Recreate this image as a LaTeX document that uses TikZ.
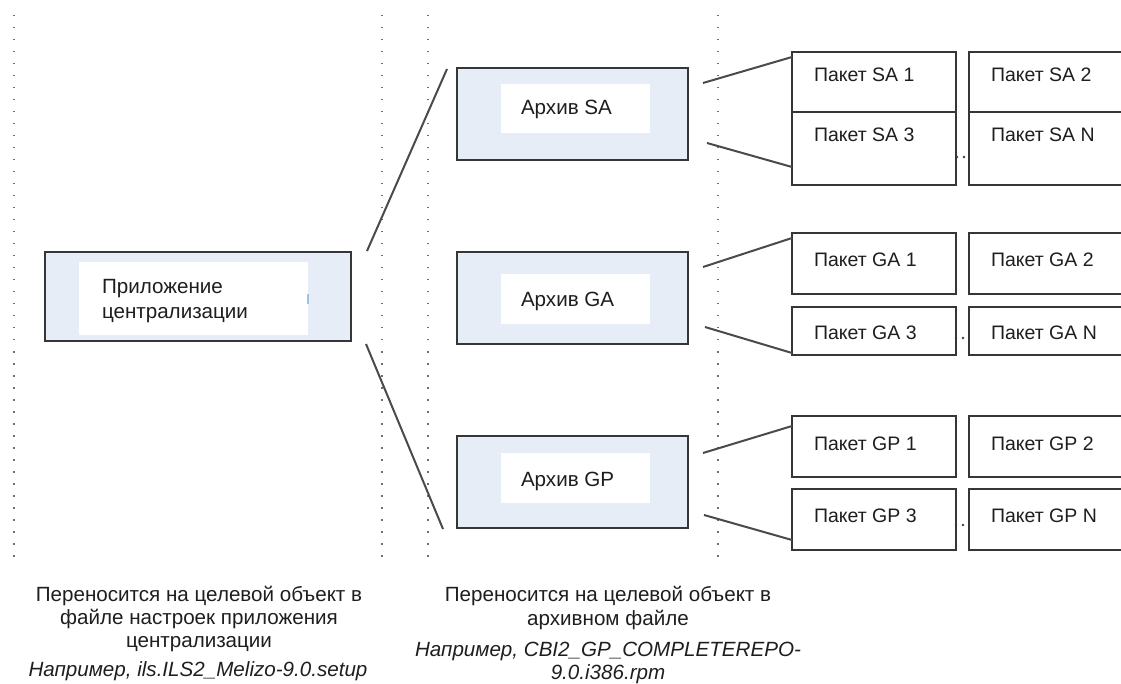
\documentclass[tikz,border=0pt]{standalone}
\usepackage{fontspec}
\setmainfont{Liberation Sans}
\usetikzlibrary{shadows}

\definecolor{boxline}{HTML}{363636}
\definecolor{archfill}{HTML}{E7EDF7}
\definecolor{linkc}{HTML}{4A4A4A}
\definecolor{guidec}{HTML}{6E6E6E}
\definecolor{dotc}{HTML}{3C3C3C}
\definecolor{textc}{HTML}{1E1E1E}
\definecolor{tickc}{HTML}{9DC3E6}

\tikzset{
  guide/.style={guidec, line width=1.5pt, dash pattern=on 1.5pt off 10.5pt},
  arch/.style={draw=boxline, line width=1.7pt, fill=archfill, inner sep=0pt, outer sep=0pt,
    drop shadow={shadow xshift=0.9pt, shadow yshift=-1.3pt, fill=gray!70, opacity=1}},
  whitepad/.style={fill=white, draw=none, inner sep=0pt, outer sep=0pt},
  pkg/.style={draw=boxline, line width=1.5pt, fill=white, inner sep=0pt, outer sep=0pt},
  lbl/.style={font=\fontsize{19.5}{23}\selectfont, text=textc, inner sep=0pt, outer sep=0pt},
  biglbl/.style={lbl, font=\fontsize{20.6}{24}\selectfont},
  captxt/.style={biglbl, anchor=base},
  link/.style={draw=linkc, line width=2pt},
  ell/.style={fill=dotc, circle, inner sep=0pt, minimum size=2.8pt},
}

\begin{document}
\begin{tikzpicture}[x=1pt, y=-1pt]
\useasboundingbox (0,0) rectangle (1121,684);

% vertical dotted guides
\draw[guide] (14,15) -- (14,566);
\draw[guide] (382,15) -- (382,566);
\draw[guide] (428,15) -- (428,566);
\draw[guide] (718,15) -- (718,566);

% application box
\node[arch, minimum width=306pt, minimum height=89pt] (app) at (198,296.5) {};
\node[whitepad, minimum width=229pt, minimum height=73pt] (apppad) at (193.5,298.5) {};
\node[biglbl, anchor=base west] (applbl1) at (102,293.5) {Приложение};
\node[biglbl, anchor=base west] (applbl2) at (102,318.5) {централизации};
\draw[tickc, line width=1.2pt] (apppad.east) ++(0,-4) -- ++(0,10);

% archive boxes
\node[arch, minimum width=231pt, minimum height=92pt] (sa) at (572.5,114) {};
\node[whitepad, minimum width=149pt, minimum height=49pt] (sapad) at (575.5,108.5) {};
\node[biglbl, anchor=base west] (salbl) at (521,115) {Архив SA};

\node[arch, minimum width=231pt, minimum height=92pt] (ga) at (572.5,298) {};
\node[whitepad, minimum width=149pt, minimum height=50pt] (gapad) at (575.5,299) {};
\node[biglbl, anchor=base west] (galbl) at (521,306.5) {Архив GA};

\node[arch, minimum width=231pt, minimum height=92pt] (gp) at (572.5,482) {};
\node[whitepad, minimum width=149pt, minimum height=50pt] (gppad) at (575.5,478) {};
\node[biglbl, anchor=base west] (gplbl) at (521,486.5) {Архив GP};

% package boxes, SA group
\node[pkg, minimum width=164pt, minimum height=60pt] (sa1) at (874,82) {};
\node[pkg, minimum width=164pt, minimum height=73pt] (sa3) at (874,148.5) {};
\node[pkg, minimum width=162pt, minimum height=60pt] (sa2) at (1050,82) {};
\node[pkg, minimum width=162pt, minimum height=73pt] (san) at (1050,148.5) {};
\node[lbl, anchor=base west] (sa1l) at (814,82) {Пакет SA 1};
\node[lbl, anchor=base west] (sa3l) at (814,142) {Пакет SA 3};
\node[lbl, anchor=base west] (sa2l) at (991,82) {Пакет SA 2};
\node[lbl, anchor=base west] (sanl) at (991,142) {Пакет SA N};
\node[ell] (sad1) at (957,157) {};
\node[ell] (sad2) at (964,157) {};

% package boxes, GA group
\node[pkg, minimum width=164pt, minimum height=61pt] (ga1) at (874,263.5) {};
\node[pkg, minimum width=164pt, minimum height=48pt] (ga3) at (874,331) {};
\node[pkg, minimum width=162pt, minimum height=61pt] (ga2) at (1050,263.5) {};
\node[pkg, minimum width=162pt, minimum height=48pt] (gan) at (1050,331) {};
\node[lbl, anchor=base west] (ga1l) at (814,267) {Пакет GA 1};
\node[lbl, anchor=base west] (ga3l) at (814,339) {Пакет GA 3};
\node[lbl, anchor=base west] (ga2l) at (991,267) {Пакет GA 2};
\node[lbl, anchor=base west] (ganl) at (991,339) {Пакет GA N};
\node[ell] (gad1) at (956,338) {};
\node[ell] (gad2) at (963,338) {};

% package boxes, GP group
\node[pkg, minimum width=164pt, minimum height=61pt] (gp1) at (874,446.5) {};
\node[pkg, minimum width=164pt, minimum height=61pt] (gp3) at (874,519.5) {};
\node[pkg, minimum width=162pt, minimum height=61pt] (gp2) at (1050,446.5) {};
\node[pkg, minimum width=162pt, minimum height=61pt] (gpn) at (1050,519.5) {};
\node[lbl, anchor=base west] (gp1l) at (814,450) {Пакет GP 1};
\node[lbl, anchor=base west] (gp3l) at (814,522.5) {Пакет GP 3};
\node[lbl, anchor=base west] (gp2l) at (991,450) {Пакет GP 2};
\node[lbl, anchor=base west] (gpnl) at (991,522.5) {Пакет GP N};
\node[ell] (gpd1) at (956,525) {};
\node[ell] (gpd2) at (963,525) {};

% connectors
\draw[link] ([shift={(16,-1)}]app.north east) -- ([shift={(-10,1)}]sa.north west);
\draw[link] ([shift={(15,3)}]app.south east) -- ([shift={(-14,1)}]gp.south west);

\draw[link] ([shift={(15,15)}]sa.north east) -- ([shift={(0,5)}]sa1.north west);
\draw[link] ([shift={(19,29)}]sa.east) -- ([shift={(0,-18)}]sa3.south west);
\draw[link] ([shift={(15,15)}]ga.north east) -- ([shift={(0,5)}]ga1.north west);
\draw[link] ([shift={(17,-17)}]ga.south east) -- ([shift={(0,-2)}]ga3.south west);
\draw[link] ([shift={(15,17)}]gp.north east) -- ([shift={(0,10)}]gp1.north west);
\draw[link] ([shift={(16,-13)}]gp.south east) -- ([shift={(0,-10)}]gp3.south west);

% captions
\node[captxt] (c1a) at (199,601) {Переносится на целевой объект в};
\node[captxt] (c1b) at (199,624) {файле настроек приложения};
\node[captxt] (c1c) at (199,647.5) {централизации};
\node[captxt] (c1d) at (198,676) {\itshape Например, ils.ILS2\_Melizo-9.0.setup};

\node[captxt] (c2a) at (608,601) {Переносится на целевой объект в};
\node[captxt] (c2b) at (608,625) {архивном файле};
\node[captxt] (c2c) at (608,656) {\itshape Например, CBI2\_GP\_COMPLETEREPO-};
\node[captxt] (c2d) at (608,679) {\itshape 9.0.i386.rpm};
\end{tikzpicture}
\end{document}
